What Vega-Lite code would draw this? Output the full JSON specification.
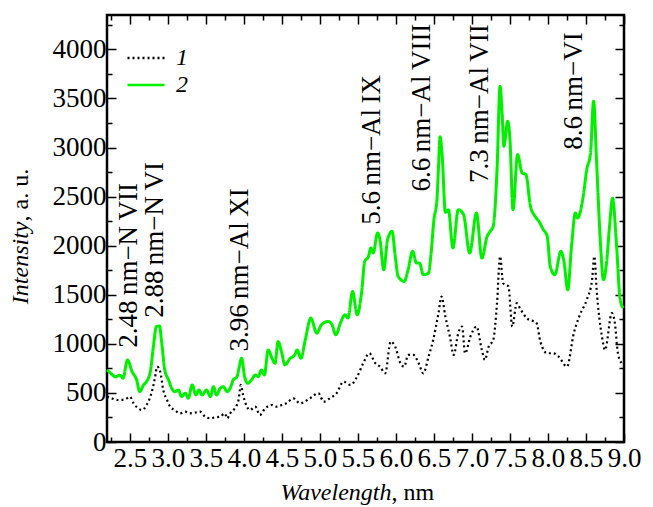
{
  "$schema": "https://vega.github.io/schema/vega-lite/v6.json",
  "width": 517,
  "height": 427,
  "autosize": {"type": "none"},
  "padding": {"left": 107, "top": 15, "right": 29, "bottom": 65},
  "background": "white",
  "config": {
    "view": {"stroke": "black", "strokeWidth": 2.5},
    "font": "Liberation Serif",
    "axis": {"domain": false, "grid": false, "tickColor": "black", "tickWidth": 1.5, "labelFont": "Liberation Serif", "labelFontSize": 27, "labelColor": "black", "titleFont": "Liberation Serif", "titleFontSize": 24, "titleColor": "black", "titleFontWeight": "normal", "labelOverlap": false, "labelBound": false, "labelFlush": false},
    "legend": {"symbolType": "stroke", "symbolSize": 1369, "symbolStrokeWidth": 2.5, "labelFont": "Liberation Serif", "labelFontSize": 24, "labelFontStyle": "italic", "labelColor": "black", "labelOffset": 10, "rowPadding": 3, "clipHeight": 24}
  },
  "datasets": {
    "spec": [
      {"s":"1","w":2.20,"v":462},{"s":"1","w":2.26,"v":445},{"s":"1","w":2.35,"v":428},{"s":"1","w":2.44,"v":435},{"s":"1","w":2.50,"v":462},{"s":"1","w":2.55,"v":394},{"s":"1","w":2.61,"v":343},{"s":"1","w":2.66,"v":326},{"s":"1","w":2.72,"v":377},{"s":"1","w":2.79,"v":513},{"s":"1","w":2.83,"v":650},{"s":"1","w":2.86,"v":768},{"s":"1","w":2.90,"v":717},{"s":"1","w":2.94,"v":530},{"s":"1","w":2.99,"v":428},{"s":"1","w":3.03,"v":360},{"s":"1","w":3.09,"v":326},{"s":"1","w":3.16,"v":292},{"s":"1","w":3.23,"v":309},{"s":"1","w":3.29,"v":292},{"s":"1","w":3.36,"v":299},{"s":"1","w":3.42,"v":309},{"s":"1","w":3.49,"v":258},{"s":"1","w":3.56,"v":241},{"s":"1","w":3.62,"v":251},{"s":"1","w":3.69,"v":258},{"s":"1","w":3.75,"v":292},{"s":"1","w":3.78,"v":241},{"s":"1","w":3.82,"v":292},{"s":"1","w":3.88,"v":343},{"s":"1","w":3.93,"v":428},{"s":"1","w":3.96,"v":581},{"s":"1","w":3.99,"v":479},{"s":"1","w":4.04,"v":360},{"s":"1","w":4.08,"v":326},{"s":"1","w":4.15,"v":360},{"s":"1","w":4.21,"v":275},{"s":"1","w":4.28,"v":343},{"s":"1","w":4.37,"v":377},{"s":"1","w":4.43,"v":360},{"s":"1","w":4.50,"v":377},{"s":"1","w":4.56,"v":394},{"s":"1","w":4.65,"v":445},{"s":"1","w":4.74,"v":394},{"s":"1","w":4.87,"v":445},{"s":"1","w":4.98,"v":497},{"s":"1","w":5.05,"v":411},{"s":"1","w":5.13,"v":445},{"s":"1","w":5.22,"v":497},{"s":"1","w":5.31,"v":615},{"s":"1","w":5.40,"v":581},{"s":"1","w":5.49,"v":666},{"s":"1","w":5.57,"v":802},{"s":"1","w":5.65,"v":904},{"s":"1","w":5.73,"v":802},{"s":"1","w":5.79,"v":768},{"s":"1","w":5.86,"v":700},{"s":"1","w":5.93,"v":1023},{"s":"1","w":5.99,"v":972},{"s":"1","w":6.06,"v":802},{"s":"1","w":6.11,"v":768},{"s":"1","w":6.16,"v":887},{"s":"1","w":6.23,"v":887},{"s":"1","w":6.30,"v":802},{"s":"1","w":6.36,"v":700},{"s":"1","w":6.43,"v":870},{"s":"1","w":6.49,"v":1040},{"s":"1","w":6.56,"v":1313},{"s":"1","w":6.60,"v":1482},{"s":"1","w":6.65,"v":1279},{"s":"1","w":6.71,"v":1075},{"s":"1","w":6.76,"v":887},{"s":"1","w":6.82,"v":1109},{"s":"1","w":6.87,"v":1176},{"s":"1","w":6.91,"v":904},{"s":"1","w":6.98,"v":1075},{"s":"1","w":7.06,"v":1176},{"s":"1","w":7.13,"v":938},{"s":"1","w":7.17,"v":836},{"s":"1","w":7.22,"v":972},{"s":"1","w":7.28,"v":1040},{"s":"1","w":7.33,"v":1415},{"s":"1","w":7.37,"v":1891},{"s":"1","w":7.41,"v":1619},{"s":"1","w":7.48,"v":1584},{"s":"1","w":7.53,"v":1176},{"s":"1","w":7.59,"v":1415},{"s":"1","w":7.63,"v":1364},{"s":"1","w":7.72,"v":1262},{"s":"1","w":7.85,"v":1211},{"s":"1","w":7.90,"v":1023},{"s":"1","w":7.99,"v":904},{"s":"1","w":8.07,"v":904},{"s":"1","w":8.14,"v":870},{"s":"1","w":8.25,"v":768},{"s":"1","w":8.34,"v":1109},{"s":"1","w":8.42,"v":1296},{"s":"1","w":8.51,"v":1449},{"s":"1","w":8.58,"v":1653},{"s":"1","w":8.61,"v":1891},{"s":"1","w":8.64,"v":1551},{"s":"1","w":8.71,"v":1075},{"s":"1","w":8.75,"v":938},{"s":"1","w":8.84,"v":1313},{"s":"1","w":8.88,"v":1211},{"s":"1","w":8.92,"v":904},{"s":"1","w":8.97,"v":802},
      {"s":"2","w":2.20,"v":735},{"s":"2","w":2.25,"v":700},{"s":"2","w":2.31,"v":665},{"s":"2","w":2.37,"v":680},{"s":"2","w":2.41,"v":650},{"s":"2","w":2.47,"v":835},{"s":"2","w":2.53,"v":717},{"s":"2","w":2.59,"v":632},{"s":"2","w":2.63,"v":513},{"s":"2","w":2.68,"v":580},{"s":"2","w":2.72,"v":615},{"s":"2","w":2.77,"v":717},{"s":"2","w":2.81,"v":972},{"s":"2","w":2.85,"v":1176},{"s":"2","w":2.89,"v":1183},{"s":"2","w":2.92,"v":1007},{"s":"2","w":2.96,"v":734},{"s":"2","w":3.01,"v":632},{"s":"2","w":3.05,"v":548},{"s":"2","w":3.09,"v":513},{"s":"2","w":3.14,"v":530},{"s":"2","w":3.18,"v":462},{"s":"2","w":3.23,"v":497},{"s":"2","w":3.27,"v":445},{"s":"2","w":3.32,"v":581},{"s":"2","w":3.37,"v":479},{"s":"2","w":3.41,"v":530},{"s":"2","w":3.45,"v":479},{"s":"2","w":3.51,"v":530},{"s":"2","w":3.56,"v":462},{"s":"2","w":3.60,"v":564},{"s":"2","w":3.64,"v":479},{"s":"2","w":3.69,"v":548},{"s":"2","w":3.73,"v":564},{"s":"2","w":3.78,"v":513},{"s":"2","w":3.82,"v":548},{"s":"2","w":3.86,"v":632},{"s":"2","w":3.91,"v":666},{"s":"2","w":3.94,"v":768},{"s":"2","w":3.97,"v":853},{"s":"2","w":4.01,"v":666},{"s":"2","w":4.05,"v":598},{"s":"2","w":4.10,"v":632},{"s":"2","w":4.15,"v":683},{"s":"2","w":4.19,"v":666},{"s":"2","w":4.23,"v":734},{"s":"2","w":4.27,"v":683},{"s":"2","w":4.32,"v":938},{"s":"2","w":4.37,"v":853},{"s":"2","w":4.41,"v":802},{"s":"2","w":4.45,"v":1023},{"s":"2","w":4.50,"v":904},{"s":"2","w":4.54,"v":785},{"s":"2","w":4.61,"v":853},{"s":"2","w":4.67,"v":887},{"s":"2","w":4.70,"v":938},{"s":"2","w":4.75,"v":853},{"s":"2","w":4.81,"v":1050},{"s":"2","w":4.88,"v":1262},{"s":"2","w":4.96,"v":1109},{"s":"2","w":5.02,"v":1194},{"s":"2","w":5.11,"v":1228},{"s":"2","w":5.16,"v":1194},{"s":"2","w":5.21,"v":1092},{"s":"2","w":5.27,"v":1211},{"s":"2","w":5.33,"v":1296},{"s":"2","w":5.37,"v":1262},{"s":"2","w":5.43,"v":1534},{"s":"2","w":5.49,"v":1296},{"s":"2","w":5.55,"v":1534},{"s":"2","w":5.59,"v":1840},{"s":"2","w":5.64,"v":1891},{"s":"2","w":5.67,"v":1976},{"s":"2","w":5.70,"v":1925},{"s":"2","w":5.76,"v":2129},{"s":"2","w":5.79,"v":2061},{"s":"2","w":5.84,"v":1755},{"s":"2","w":5.89,"v":2061},{"s":"2","w":5.95,"v":2146},{"s":"2","w":5.99,"v":1900},{"s":"2","w":6.03,"v":1687},{"s":"2","w":6.11,"v":1636},{"s":"2","w":6.16,"v":1755},{"s":"2","w":6.22,"v":1942},{"s":"2","w":6.27,"v":1823},{"s":"2","w":6.31,"v":1823},{"s":"2","w":6.36,"v":1704},{"s":"2","w":6.43,"v":1721},{"s":"2","w":6.46,"v":1900},{"s":"2","w":6.50,"v":2265},{"s":"2","w":6.54,"v":2470},{"s":"2","w":6.56,"v":2800},{"s":"2","w":6.58,"v":3110},{"s":"2","w":6.61,"v":2900},{"s":"2","w":6.65,"v":2340},{"s":"2","w":6.69,"v":2367},{"s":"2","w":6.75,"v":1976},{"s":"2","w":6.82,"v":2367},{"s":"2","w":6.89,"v":2316},{"s":"2","w":6.97,"v":1925},{"s":"2","w":7.06,"v":2333},{"s":"2","w":7.13,"v":1874},{"s":"2","w":7.20,"v":2095},{"s":"2","w":7.24,"v":2146},{"s":"2","w":7.28,"v":2197},{"s":"2","w":7.33,"v":2775},{"s":"2","w":7.37,"v":3624},{"s":"2","w":7.40,"v":3300},{"s":"2","w":7.42,"v":3013},{"s":"2","w":7.47,"v":3267},{"s":"2","w":7.50,"v":3080},{"s":"2","w":7.54,"v":2367},{"s":"2","w":7.60,"v":2928},{"s":"2","w":7.66,"v":2741},{"s":"2","w":7.71,"v":2724},{"s":"2","w":7.77,"v":2401},{"s":"2","w":7.83,"v":2299},{"s":"2","w":7.88,"v":2248},{"s":"2","w":7.94,"v":2163},{"s":"2","w":7.99,"v":2095},{"s":"2","w":8.03,"v":1789},{"s":"2","w":8.09,"v":1704},{"s":"2","w":8.17,"v":1942},{"s":"2","w":8.21,"v":1840},{"s":"2","w":8.26,"v":1551},{"s":"2","w":8.31,"v":1993},{"s":"2","w":8.36,"v":2333},{"s":"2","w":8.39,"v":2282},{"s":"2","w":8.46,"v":2486},{"s":"2","w":8.51,"v":2775},{"s":"2","w":8.56,"v":2945},{"s":"2","w":8.60,"v":3471},{"s":"2","w":8.64,"v":2843},{"s":"2","w":8.69,"v":2027},{"s":"2","w":8.73,"v":1653},{"s":"2","w":8.77,"v":1823},{"s":"2","w":8.81,"v":2200},{"s":"2","w":8.85,"v":2486},{"s":"2","w":8.90,"v":2027},{"s":"2","w":8.95,"v":1449},{"s":"2","w":8.99,"v":1364}
    ],
    "ann": [
      {"t":"2.48\u2009nm\u2212N\u2009VII","w":2.49,"v":960},
      {"t":"2.88\u2009nm\u2212N\u2009VI","w":2.83,"v":1265},
      {"t":"3.96\u2009nm\u2212Al\u2009XI","w":3.95,"v":921},
      {"t":"5.6\u2009nm\u2212Al\u2009IX","w":5.69,"v":2213},
      {"t":"6.6\u2009nm\u2212Al\u2009VIII","w":6.34,"v":2553},
      {"t":"7.3\u2009nm\u2212Al\u2009VII","w":7.11,"v":2639},
      {"t":"8.6\u2009nm\u2212VI","w":8.34,"v":2978}
    ]
  },
  "layer": [
    {
      "data": {"name": "spec"},
      "transform": [{"filter": "datum.s == '1'"}],
      "mark": {"type": "line", "strokeWidth": 2.2, "interpolate": "monotone"},
      "encoding": {
        "x": {"field": "w", "type": "quantitative", "scale": {"domain": [2.2, 9.0], "nice": false, "zero": false},
          "axis": {"orient": "bottom", "values": [2.25,2.5,2.75,3,3.25,3.5,3.75,4,4.25,4.5,4.75,5,5.25,5.5,5.75,6,6.25,6.5,6.75,7,7.25,7.5,7.75,8,8.25,8.5,8.75,9],
            "tickSize": {"condition": {"test": "datum.value % 0.5 == 0", "value": -9}, "value": -5},
            "labelExpr": "datum.value % 0.5 == 0 ? format(datum.value, '.1f') : ''",
            "labelPadding": 12,
            "title": "Wavelength", "titleFontStyle": "italic", "titleAlign": "right", "titleX": 284, "titleY": 57, "titleBaseline": "alphabetic"}},
        "y": {"field": "v", "type": "quantitative", "scale": {"domain": [0, 4350], "nice": false, "zero": true},
          "axis": {"orient": "left", "values": [0,250,500,750,1000,1250,1500,1750,2000,2250,2500,2750,3000,3250,3500,3750,4000,4250],
            "tickSize": {"condition": {"test": "datum.value % 500 == 0", "value": -9}, "value": -5},
            "labelExpr": "datum.value % 500 == 0 ? format(datum.value, 'd') : ''",
            "labelPadding": 10,
            "title": "Intensity", "titleFontStyle": "italic", "titleAlign": "right", "titleAngle": 270, "titleX": -80, "titleY": 206, "titleBaseline": "alphabetic"}},
        "color": {"field": "s", "type": "nominal", "scale": {"domain": ["1", "2"], "range": ["black", "#00f000"]},
          "legend": {"title": null, "orient": "none", "legendX": 19, "legendY": 31}},
        "strokeDash": {"field": "s", "type": "nominal", "scale": {"domain": ["1", "2"], "range": [[2, 3], [1, 0]]},
          "legend": {"title": null, "orient": "none", "legendX": 19, "legendY": 31}}
      }
    },
    {
      "data": {"name": "spec"},
      "transform": [{"filter": "datum.s == '2'"}],
      "mark": {"type": "line", "strokeWidth": 3, "interpolate": "monotone"},
      "encoding": {
        "x": {"field": "w", "type": "quantitative",
          "axis": {"orient": "top", "values": [2.25,2.5,2.75,3,3.25,3.5,3.75,4,4.25,4.5,4.75,5,5.25,5.5,5.75,6,6.25,6.5,6.75,7,7.25,7.5,7.75,8,8.25,8.5,8.75,9],
            "tickSize": {"condition": {"test": "datum.value % 0.5 == 0", "value": -9}, "value": -5},
            "labels": false, "title": null}},
        "y": {"field": "v", "type": "quantitative",
          "axis": {"orient": "right", "values": [0,250,500,750,1000,1250,1500,1750,2000,2250,2500,2750,3000,3250,3500,3750,4000,4250],
            "tickSize": {"condition": {"test": "datum.value % 500 == 0", "value": -9}, "value": -5},
            "labels": false, "title": null}},
        "color": {"field": "s", "type": "nominal"},
        "strokeDash": {"field": "s", "type": "nominal"}
      }
    },
    {
      "data": {"name": "ann"},
      "mark": {"type": "text", "angle": 270, "align": "left", "baseline": "middle", "font": "Liberation Serif", "fontSize": 27, "color": "black"},
      "encoding": {
        "x": {"field": "w", "type": "quantitative",
          "axis": {"orient": "bottom", "ticks": false, "labels": false, "title": ", nm", "titleFontStyle": "normal", "titleAlign": "left", "titleX": 284, "titleY": 57, "titleBaseline": "alphabetic"}},
        "y": {"field": "v", "type": "quantitative",
          "axis": {"orient": "left", "ticks": false, "labels": false, "title": ", a. u.", "titleFontStyle": "normal", "titleAlign": "left", "titleAngle": 270, "titleX": -80, "titleY": 206, "titleBaseline": "alphabetic"}},
        "text": {"field": "t", "type": "nominal"}
      }
    }
  ],
  "resolve": {"axis": {"x": "independent", "y": "independent"}}
}
